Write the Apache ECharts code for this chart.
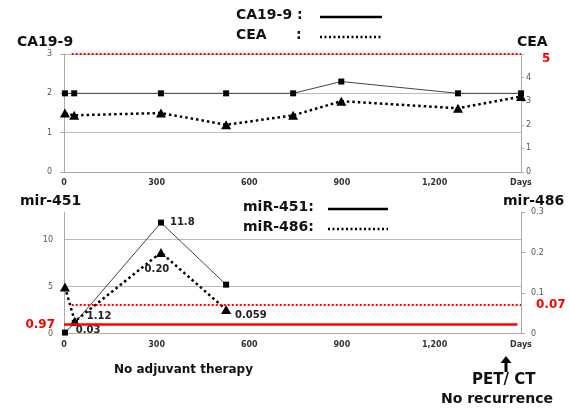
<!DOCTYPE html>
<html>
<head>
<meta charset="utf-8">
<script src="https://cdn.jsdelivr.net/npm/echarts@6/dist/echarts.min.js"></script>
<style>
html,body{margin:0;padding:0;background:#fff;}
#chart{width:569px;height:408px;}
</style>
</head>
<body>
<div id="chart"></div>
<script>
// ---- data ----
const topDays = [3, 33, 314, 525, 742, 898, 1276, 1480];
const ca199 = [2, 2, 2, 2, 2, 2.3, 2, 2];
const cea = [2.5, 2.4, 2.5, 2.0, 2.4, 3.0, 2.7, 3.2];
const bottomDays = [3, 35, 314, 525];
const mir451 = [0.1, 1.12, 11.8, 5.2];
const mir486 = [0.115, 0.03, 0.20, 0.059];
const mir451Labels = ['', '1.12', '11.8', ''];
const mir486Labels = ['', '0.03', '0.20', '0.059'];
const dayMax = 1480;
const dayInterval = 300;
const ceaLimit = 5;
const mir451Cutoff = 0.97;
const mir486Cutoff = 0.07;

const FONT = 'DejaVu Sans';
const pair = (xs, ys) => xs.map((x, i) => [x, ys[i]]);

const labelOffsets451 = [null, { position: 'right', offset: [4, -7] }, { position: 'right', offset: [1, 0] }, null];
const labelOffsets486 = [null, { position: 'right', offset: [-9, 9] }, { position: 'bottom', offset: [-4, 2] }, { position: 'right', offset: [-1, 6] }];

function labeled(xs, ys, labels, offs) {
  return xs.map((x, i) => {
    const item = { value: [x, ys[i]] };
    if (labels[i]) {
      item.label = Object.assign({
        show: true, formatter: labels[i], fontFamily: FONT, fontWeight: 'bold',
        fontSize: 10, color: '#222'
      }, offs[i]);
    }
    return item;
  });
}

const xAxisCommon = {
  type: 'value', min: 0, max: dayMax, interval: dayInterval,
  axisLine: { lineStyle: { color: '#aaa', width: 1 } },
  axisTick: { show: false },
  splitLine: { show: false },
  axisLabel: {
    fontFamily: FONT, fontSize: 8, fontWeight: 'bold', color: '#333', margin: 7,
    showMaxLabel: true,
    formatter: v => v >= dayMax ? 'Days' : (v >= 1000 ? Math.floor(v / 1000) + ',' + String(v % 1000).padStart(3, '0') : String(v))
  }
};

const yLabel = { fontFamily: FONT, fontSize: 8, color: '#555' };

const chart = echarts.init(document.getElementById('chart'), null, { renderer: 'canvas' });
chart.setOption({
  animation: false,
  backgroundColor: '#fff',
  grid: [
    { left: 64, right: 48, top: 54, height: 118 },
    { left: 64, right: 48, top: 212, height: 121.5 }
  ],
  xAxis: [
    Object.assign({ gridIndex: 0 }, xAxisCommon),
    Object.assign({ gridIndex: 1 }, xAxisCommon)
  ],
  yAxis: [
    { gridIndex: 0, type: 'value', min: 0, max: 3, interval: 1, position: 'left',
      axisLine: { show: true, lineStyle: { color: '#aaa' } },
      axisTick: { show: true, length: 4, lineStyle: { color: '#aaa' } },
      axisLabel: Object.assign({ margin: 12 }, yLabel),
      splitLine: { show: true, showMinLine: false, lineStyle: { color: '#bbb', width: 1 } } },
    { gridIndex: 0, type: 'value', min: 0, max: 5, interval: 1, position: 'right',
      axisLine: { show: true, lineStyle: { color: '#aaa' } },
      axisTick: { show: true, length: 3, lineStyle: { color: '#aaa' } },
      axisLabel: Object.assign({ margin: 5,
        formatter: v => v === ceaLimit ? '{r|' + v + '}' : String(v),
        rich: { r: { color: '#ff0000', fontFamily: FONT, fontWeight: 'bold', fontSize: 12, padding: [10, 0, 0, 16] } }
      }, yLabel),
      splitLine: { show: false } },
    { gridIndex: 1, type: 'value', min: 0, max: 12.93, interval: 5, position: 'left',
      axisLine: { show: true, lineStyle: { color: '#aaa' } },
      axisTick: { show: false },
      axisLabel: Object.assign({ margin: 11, showMaxLabel: false }, yLabel),
      splitLine: { show: true, showMinLine: false, showMaxLine: false, lineStyle: { color: '#bbb', width: 1 } } },
    { gridIndex: 1, type: 'value', min: 0, max: 0.3, interval: 0.1, position: 'right',
      axisLine: { show: true, lineStyle: { color: '#aaa' } },
      axisTick: { show: true, length: 4, lineStyle: { color: '#aaa' } },
      axisLabel: Object.assign({ margin: 10, formatter: v => v === 0 ? '0' : v.toFixed(1) }, yLabel),
      splitLine: { show: false } }
  ],
  series: [
    { name: 'CA19-9', type: 'line', xAxisIndex: 0, yAxisIndex: 0,
      data: pair(topDays, ca199), symbol: 'rect', symbolSize: 6,
      itemStyle: { color: '#000' }, lineStyle: { color: '#444', width: 1 }, z: 3 },
    { name: 'CEA', type: 'line', xAxisIndex: 0, yAxisIndex: 1,
      data: pair(topDays, cea), symbol: 'triangle', symbolSize: [10, 9],
      itemStyle: { color: '#000' }, lineStyle: { color: '#000', width: 2.5, type: [2.5, 3] }, z: 4,
      markLine: { silent: true, symbol: 'none', animation: false,
        lineStyle: { color: '#ff0000', width: 2, type: [2, 2] },
        label: { show: false },
        data: [[{ coord: [25, ceaLimit] }, { coord: [dayMax, ceaLimit] }]] } },
    { name: 'miR-451', type: 'line', xAxisIndex: 1, yAxisIndex: 2,
      data: labeled(bottomDays, mir451, mir451Labels, labelOffsets451), symbol: 'rect', symbolSize: 6,
      itemStyle: { color: '#000' }, lineStyle: { color: '#444', width: 1 }, z: 3,
      markLine: { silent: true, symbol: 'none', animation: false,
        lineStyle: { color: '#ff0000', width: 2.5, type: 'solid' },
        label: { show: true, position: 'start', distance: 9, formatter: String(mir451Cutoff),
          color: '#ff0000', fontFamily: FONT, fontWeight: 'bold', fontSize: 12 },
        data: [[{ coord: [0, mir451Cutoff] }, { coord: [1468, mir451Cutoff] }]] } },
    { name: 'miR-486', type: 'line', xAxisIndex: 1, yAxisIndex: 3,
      data: labeled(bottomDays, mir486, mir486Labels, labelOffsets486), symbol: 'triangle', symbolSize: [10, 9],
      itemStyle: { color: '#000' }, lineStyle: { color: '#000', width: 2.5, type: [2.5, 3] }, z: 4,
      markLine: { silent: true, symbol: 'none', animation: false,
        lineStyle: { color: '#ff0000', width: 2, type: [2, 2] },
        label: { show: true, position: 'end', distance: 15, formatter: String(mir486Cutoff),
          color: '#ff0000', fontFamily: FONT, fontWeight: 'bold', fontSize: 12 },
        data: [[{ coord: [25, mir486Cutoff] }, { coord: [dayMax, mir486Cutoff] }]] } }
  ],
  graphic: [
    // axis titles
    { type: 'text', left: 17, top: 35, style: { text: 'CA19-9', font: 'bold 14px ' + FONT, fill: '#111' } },
    { type: 'text', left: 517, top: 35, style: { text: 'CEA', font: 'bold 14px ' + FONT, fill: '#111' } },
    { type: 'text', left: 20, top: 194, style: { text: 'mir-451', font: 'bold 14px ' + FONT, fill: '#111' } },
    { type: 'text', left: 503, top: 194, style: { text: 'mir-486', font: 'bold 14px ' + FONT, fill: '#111' } },
    // top legend
    { type: 'text', left: 236, top: 8, style: { text: 'CA19-9 :', font: 'bold 14px ' + FONT, fill: '#111' } },
    { type: 'text', left: 236, top: 28, style: { text: 'CEA', font: 'bold 14px ' + FONT, fill: '#111' } },
    { type: 'text', left: 296, top: 28, style: { text: ':', font: 'bold 14px ' + FONT, fill: '#111' } },
    { type: 'line', shape: { x1: 320, y1: 17, x2: 382, y2: 17 }, style: { stroke: '#000', lineWidth: 2.5 } },
    { type: 'line', shape: { x1: 320, y1: 37, x2: 382, y2: 37 }, style: { stroke: '#000', lineWidth: 2.5, lineDash: [2, 2.5] } },
    // bottom legend
    { type: 'text', left: 243, top: 200, style: { text: 'miR-451:', font: 'bold 14px ' + FONT, fill: '#111' } },
    { type: 'text', left: 243, top: 220, style: { text: 'miR-486:', font: 'bold 14px ' + FONT, fill: '#111' } },
    { type: 'line', shape: { x1: 328, y1: 209, x2: 388, y2: 209 }, style: { stroke: '#000', lineWidth: 2.5 } },
    { type: 'line', shape: { x1: 328, y1: 229, x2: 388, y2: 229 }, style: { stroke: '#000', lineWidth: 2.5, lineDash: [2, 2.5] } },
    // annotations
    { type: 'text', left: 114, top: 364, style: { text: 'No adjuvant therapy', font: 'bold 12px ' + FONT, fill: '#111' } },
    { type: 'polygon', shape: { points: [[506, 356], [500.5, 363], [504.5, 363], [504.5, 372], [507.5, 372], [507.5, 363], [511.5, 363]] }, style: { fill: '#000' } },
    { type: 'text', left: 472, top: 373, style: { text: 'PET/ CT', font: 'bold 15px ' + FONT, fill: '#111' } },
    { type: 'text', left: 441, top: 392, style: { text: 'No recurrence', font: 'bold 14px ' + FONT, fill: '#111' } }
  ]
});
</script>
</body>
</html>
